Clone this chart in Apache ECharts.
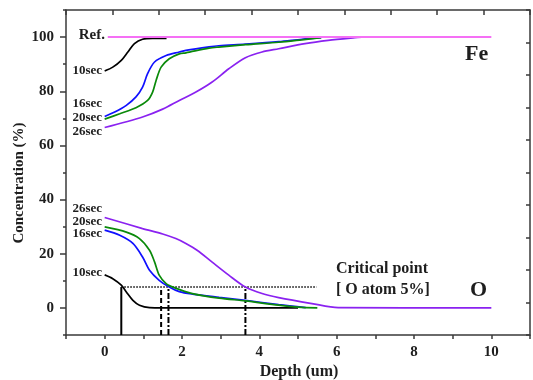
<!DOCTYPE html>
<html>
<head>
<meta charset="utf-8">
<script src="https://cdn.jsdelivr.net/npm/echarts@6/dist/echarts.min.js"></script>
<style>html,body{margin:0;padding:0;background:#fff;}#c{width:533px;height:380px;}</style>
</head>
<body>
<div id="c"></div>
<script>
// ---- data (depth in um, concentration in %) ----
var xTickLabels = [0, 2, 4, 6, 8, 10];
var yTickLabels = [0, 20, 40, 60, 80, 100];

var refX = [0.08, 10];
var refY = [100, 100];

var fe10X = [0, 0.21, 0.43, 0.60, 0.77, 0.98, 1.24, 1.60];
var fe10Y = [87.5, 88.9, 91.4, 94.5, 97.6, 99.2, 99.5, 99.5];

var fe16X = [0, 0.26, 0.56, 0.81, 0.98, 1.11, 1.29, 1.59, 1.93, 2.1, 2.7, 2.95, 3.64, 4.5, 5.1, 5.6];
var fe16Y = [70.7, 72.3, 74.8, 77.9, 81.5, 86.5, 90.8, 93.2, 94.5, 95.1, 96.4, 96.8, 97.4, 98.3, 99.2, 99.8];

var fe20X = [0, 0.39, 0.81, 1.11, 1.24, 1.33, 1.46, 1.67, 1.93, 2.1, 2.7, 2.95, 3.64, 4.5, 5.1, 5.6];
var fe20Y = [69.7, 71.7, 73.9, 76.6, 79.7, 84, 88.9, 92, 93.8, 94.2, 95.9, 96.3, 97.2, 98.1, 99.0, 99.8];

var fe26X = [0, 0.98, 1.5, 1.93, 2.36, 2.78, 3.21, 3.64, 4.07, 4.5, 5.18, 5.78, 6.47, 6.65];
var fe26Y = [66.6, 70.5, 73.4, 76.6, 79.7, 83.4, 88.3, 92.4, 94.5, 95.7, 97.6, 98.8, 99.8, 100];

var o10X = [0, 0.21, 0.43, 0.56, 0.73, 0.9, 1.16, 1.5, 5.0];
var o10Y = [12.2, 10.8, 8.4, 5.9, 2.8, 1.0, 0.1, 0, 0];

var o16X = [0, 0.39, 0.73, 0.98, 1.16, 1.41, 1.67, 1.93, 2.27, 2.96, 3.64, 4.5, 5.2];
var o16Y = [28.7, 26.8, 23.8, 18.8, 13.9, 10.2, 7.7, 6.0, 5.1, 3.9, 2.8, 1.2, 0.1];

var o20X = [0, 0.56, 0.9, 1.16, 1.29, 1.41, 1.59, 1.8, 2.27, 2.96, 3.64, 4.5, 5.0, 5.5];
var o20Y = [29.9, 28, 25.6, 21.3, 17, 12.1, 9, 7.5, 5.3, 3.6, 2.6, 1.0, 0.3, 0];

var o26X = [0, 0.98, 1.5, 1.84, 2.1, 2.4, 2.78, 3.21, 3.64, 4.07, 4.5, 5.36, 6.04, 10];
var o26Y = [33.4, 29.3, 27.3, 25.6, 23.8, 21.2, 16.9, 12.1, 7.7, 5.3, 3.8, 1.6, 0.1, 0];

// critical point markers
var critLevel = 7.7;
var critFromX = 0.43;
var critToX = 5.48;
var critX = [0.43, 1.46, 1.65, 3.64];
var critYBottom = -10;

function pairs(xs, ys) { return xs.map(function (x, i) { return [x, ys[i]]; }); }

var FONT = 'Liberation Serif';
var TXT = '#1e1e1e';
var C10 = '#000000', C16 = '#1010ff', C20 = '#0a8a0a', C26 = '#8a22f0', CREF = '#f570f5';

function curve(name, xs, ys, color, z) {
  return {
    name: name, type: 'line', data: pairs(xs, ys), showSymbol: false, symbol: 'none',
    smooth: 0.3, z: z,
    lineStyle: { color: color, width: 1.7 }, xAxisIndex: 0, yAxisIndex: 0
  };
}
function seg(data, type, width) {
  return {
    type: 'line', data: data, showSymbol: false, symbol: 'none', z: 1,
    lineStyle: { color: '#000', width: width, type: type }, xAxisIndex: 0, yAxisIndex: 0
  };
}

var series = [
  curve('Fe 10sec', fe10X, fe10Y, C10, 3),
  curve('Fe 16sec', fe16X, fe16Y, C16, 4),
  curve('Fe 20sec', fe20X, fe20Y, C20, 5),
  curve('Fe 26sec', fe26X, fe26Y, C26, 6),
  curve('O 10sec', o10X, o10Y, C10, 3),
  curve('O 16sec', o16X, o16Y, C16, 4),
  curve('O 20sec', o20X, o20Y, C20, 5),
  curve('O 26sec', o26X, o26Y, C26, 6),
  {
    name: 'Ref.', type: 'line', data: pairs(refX, refY), showSymbol: false, symbol: 'none', z: 7,
    lineStyle: { color: CREF, width: 2 }
  },
  seg([[critFromX, critLevel], [critToX, critLevel]], 'dotted', 1.5),
  seg([[critX[0], critYBottom], [critX[0], critLevel]], 'solid', 2),
  seg([[critX[1], critYBottom], [critX[1], critLevel]], [5, 3], 2),
  seg([[critX[2], critYBottom], [critX[2], critLevel]], [6, 2, 2, 2], 2),
  seg([[critX[3], critYBottom], [critX[3], critLevel]], [6, 2, 2, 2], 2)
];

var axisLineStyle = { color: '#3a3a3a', width: 1.5 };
var labelStyle = { fontFamily: FONT, fontWeight: 'bold', fontSize: 15, color: TXT };

var option = {
  animation: false,
  backgroundColor: '#ffffff',
  grid: { left: 66, right: 1, top: 10, bottom: 45, containLabel: false },
  xAxis: [
    {
      type: 'value', position: 'bottom', min: -1, max: 11, interval: 1,
      axisLine: { show: true, onZero: false, lineStyle: axisLineStyle },
      axisTick: { show: true, inside: false, length: 4, lineStyle: axisLineStyle },
      splitLine: { show: false },
      axisLabel: Object.assign({
        margin: 10,
        formatter: function (v) { v = Math.round(v); return xTickLabels.indexOf(v) >= 0 ? String(v) : ''; }
      }, labelStyle)
    },
    {
      type: 'value', position: 'top', min: 0, max: 10, interval: 1,
      axisLine: { show: true, onZero: false, lineStyle: axisLineStyle },
      axisTick: { show: true, inside: true, length: 5, lineStyle: axisLineStyle },
      splitLine: { show: false }, axisLabel: { show: false }
    }
  ],
  yAxis: [
    {
      type: 'value', position: 'left', min: -10, max: 110, interval: 10,
      axisLine: { show: true, onZero: false, lineStyle: axisLineStyle },
      axisTick: { show: true, inside: false, length: 3, lineStyle: axisLineStyle },
      splitLine: { show: false },
      axisLabel: Object.assign({
        margin: 12,
        formatter: function (v) { v = Math.round(v); return yTickLabels.indexOf(v) >= 0 ? String(v) : ''; }
      }, labelStyle)
    },
    {
      type: 'value', position: 'left', offset: 0, min: -10, max: 110,
      axisLine: { show: false, onZero: false },
      axisTick: { show: true, inside: false, length: 6, lineStyle: axisLineStyle, customValues: yTickLabels },
      axisLabel: { show: false }, splitLine: { show: false }
    },
    {
      type: 'value', position: 'right', min: 0, max: 10, interval: 1,
      axisLine: { show: true, onZero: false, lineStyle: axisLineStyle },
      axisTick: { show: true, inside: true, length: 4, lineStyle: axisLineStyle },
      splitLine: { show: false }, axisLabel: { show: false }
    }
  ],
  series: series,
  graphic: []
};

function txt(s, x, y, size, align) {
  return {
    type: 'text', x: x, y: y, z: 100,
    style: { text: s, fontFamily: FONT, fontWeight: 'bold', fontSize: size, fill: TXT,
             align: align || 'left', verticalAlign: 'middle' }
  };
}
option.graphic = [
  txt('Ref.', 105, 35, 15, 'right'),
  txt('10sec', 102, 71, 13, 'right'),
  txt('16sec', 102, 104, 13, 'right'),
  txt('20sec', 102, 118, 13, 'right'),
  txt('26sec', 102, 132, 13, 'right'),
  txt('Fe', 465, 54, 22, 'left'),
  txt('26sec', 102, 209, 13, 'right'),
  txt('20sec', 102, 222, 13, 'right'),
  txt('16sec', 102, 234, 13, 'right'),
  txt('10sec', 102, 273, 13, 'right'),
  txt('Critical point', 336, 269, 16, 'left'),
  txt('[ O atom 5%]', 336, 290, 16, 'left'),
  txt('O', 470, 290, 22, 'left'),
  txt('Depth (um)', 299, 372, 16, 'center'),
  {
    type: 'text', x: 19, y: 183, rotation: Math.PI / 2, z: 100,
    style: { text: 'Concentration (%)', fontFamily: FONT, fontWeight: 'bold', fontSize: 15,
             fill: TXT, align: 'center', verticalAlign: 'middle' }
  }
];

var chart = echarts.init(document.getElementById('c'), null, { renderer: 'canvas' });
chart.setOption(option);
</script>
</body>
</html>
